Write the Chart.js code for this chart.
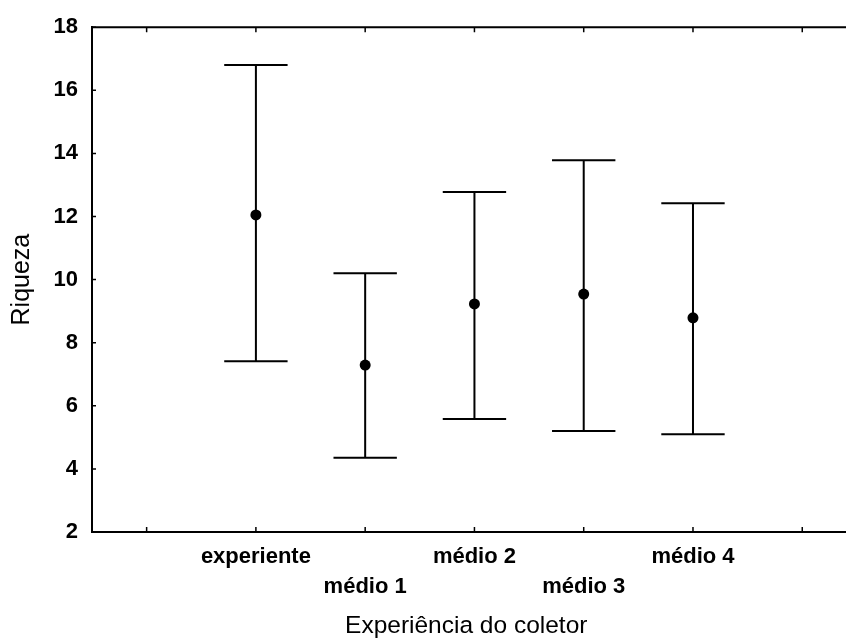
<!DOCTYPE html>
<html>
<head>
<meta charset="utf-8">
<script src="https://cdn.jsdelivr.net/npm/chart.js@4"></script>
<style>
  html, body { margin: 0; padding: 0; background: #fff; }
  #wrap { width: 846px; height: 642px; position: relative; }
</style>
</head>
<body>
<div id="wrap"><canvas id="chart"></canvas></div>
<script>
const categories = ["", "experiente", "médio 1", "médio 2", "médio 3", "médio 4", ""];
const means = [null, 12.05, 7.29, 9.23, 9.54, 8.79, null];
const upper = [null, 16.8, 10.2, 12.78, 13.78, 12.42, null];
const lower = [null, 7.41, 4.35, 5.58, 5.2, 5.1, null];
const yTicks = [2, 4, 6, 8, 10, 12, 14, 16, 18];

const capHalf = 0.29;
const ink = "#000";

const points = [];
means.forEach((m, i) => {
  if (m !== null) points.push({ x: i, y: m });
});

const errorBars = {
  id: "errorBars",
  beforeDatasetsDraw(chart) {
    const { ctx, scales: { x, y } } = chart;
    ctx.save();
    ctx.strokeStyle = ink;
    ctx.lineWidth = 2;
    categories.forEach((c, i) => {
      if (means[i] === null) return;
      const px = x.getPixelForValue(i);
      const top = y.getPixelForValue(upper[i]);
      const bot = y.getPixelForValue(lower[i]);
      const l = x.getPixelForValue(i - capHalf);
      const r = x.getPixelForValue(i + capHalf);
      ctx.beginPath();
      ctx.moveTo(px, top);
      ctx.lineTo(px, bot);
      ctx.moveTo(l, top);
      ctx.lineTo(r, top);
      ctx.moveTo(l, bot);
      ctx.lineTo(r, bot);
      ctx.stroke();
    });
    ctx.restore();
  },
  afterDraw(chart) {
    const { ctx, chartArea: a, scales: { x, y } } = chart;
    ctx.save();
    ctx.strokeStyle = ink;
    ctx.lineWidth = 2;
    // frame: top and bottom run on to the right edge (the plot is cut there)
    ctx.beginPath();
    ctx.moveTo(a.left - 1, a.top);
    ctx.lineTo(chart.width, a.top);
    ctx.moveTo(a.left - 1, a.bottom);
    ctx.lineTo(chart.width, a.bottom);
    ctx.stroke();
    // inner tick marks
    ctx.lineWidth = 1.5;
    ctx.beginPath();
    categories.forEach((c, i) => {
      const px = x.getPixelForValue(i);
      ctx.moveTo(px, a.bottom);
      ctx.lineTo(px, a.bottom - 5);
      ctx.moveTo(px, a.top);
      ctx.lineTo(px, a.top + 5);
    });
    yTicks.forEach((v) => {
      const py = y.getPixelForValue(v);
      ctx.moveTo(a.left, py);
      ctx.lineTo(a.left + 4, py);
    });
    ctx.stroke();
    ctx.restore();
  },
};

new Chart(document.getElementById("chart"), {
  type: "scatter",
  data: {
    datasets: [
      {
        label: "Riqueza",
        data: points,
        pointRadius: 5.5,
        pointHoverRadius: 5.5,
        backgroundColor: ink,
        borderColor: ink,
        borderWidth: 0,
      },
    ],
  },
  options: {
    responsive: true,
    maintainAspectRatio: false,
    animation: false,
    layout: { padding: { top: 23, right: 0, bottom: 0, left: 0 } },
    plugins: { legend: { display: false }, tooltip: { enabled: false } },
    scales: {
      x: {
        type: "linear",
        min: -0.5,
        max: 6.35,
        afterBuildTicks: (s) => {
          s.ticks = categories.map((c, i) => ({ value: i }));
        },
        afterFit: (s) => {
          s.height = 110;
        },
        grid: { display: false, drawTicks: false },
        border: { display: false },
        ticks: {
          color: ink,
          padding: 10,
          maxRotation: 0,
          autoSkip: false,
          font: { family: "Arial, 'Liberation Sans'", size: 22, weight: "bold", lineHeight: 1.36 },
          callback: (v) => {
            const label = categories[v] || "";
            return v % 2 === 0 ? ["", label] : label;
          },
        },
        title: {
          display: true,
          text: "Experiência do coletor",
          color: ink,
          padding: { top: 0, bottom: 1 },
          font: { family: "Arial, 'Liberation Sans'", size: 24.5, lineHeight: 1.2 },
        },
      },
      y: {
        min: 2,
        max: 18,
        afterBuildTicks: (s) => {
          s.ticks = yTicks.map((v) => ({ value: v }));
        },
        afterFit: (s) => {
          s.width = 92;
        },
        grid: { display: false, drawTicks: false },
        border: { display: true, color: ink, width: 2 },
        ticks: {
          color: ink,
          padding: 14,
          font: { family: "Arial, 'Liberation Sans'", size: 22, weight: "bold" },
        },
        title: {
          display: true,
          text: "Riqueza",
          color: ink,
          padding: { top: 7, bottom: 0 },
          font: { family: "Arial, 'Liberation Sans'", size: 25, lineHeight: 1.2 },
        },
      },
    },
  },
  plugins: [errorBars],
});
</script>
</body>
</html>
